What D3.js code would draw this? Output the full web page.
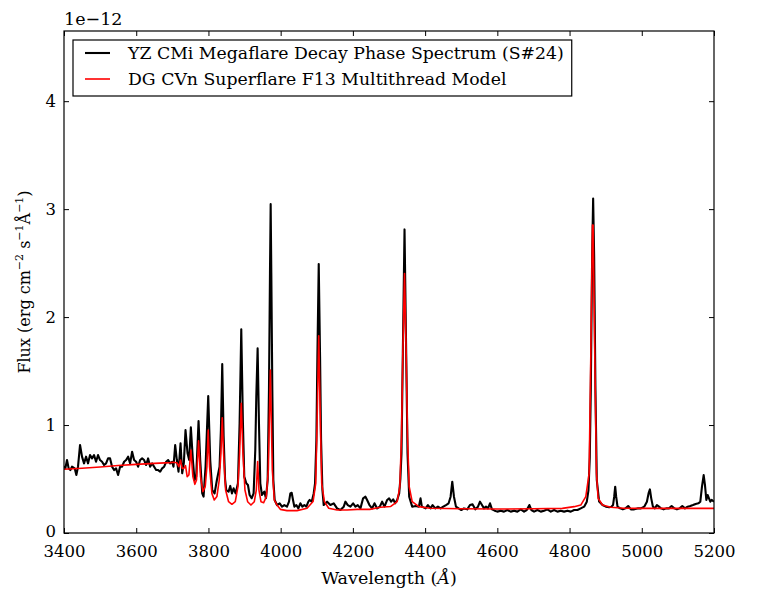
<!DOCTYPE html>
<html>
<head>
<meta charset="utf-8">
<script src="https://cdn.jsdelivr.net/npm/d3@7"></script>
<style>
  body { margin: 0; background: #fff; }
  text { font-family: "DejaVu Serif", serif; fill: #000; }
</style>
</head>
<body>
<div id="chart"></div>
<script>
// Flux values are in units of 1e-12 erg cm^-2 s^-1 A^-1
var obsWave = [3400.0, 3403.7, 3408.3, 3412.9, 3417.6, 3422.2, 3429.6, 3434.2, 3438.8, 3444.4,
  3449.9, 3455.5, 3461.0, 3466.6, 3472.1, 3477.7, 3483.2, 3488.7, 3494.3, 3499.8,
  3505.4, 3510.9, 3516.5, 3522.0, 3527.6, 3533.1, 3538.7, 3544.2, 3549.8, 3555.3,
  3560.9, 3566.4, 3572.0, 3577.5, 3583.1, 3588.6, 3594.1, 3599.7, 3605.2, 3610.8,
  3616.3, 3621.9, 3627.4, 3633.0, 3638.5, 3644.1, 3649.6, 3655.2, 3660.7, 3666.3,
  3671.8, 3677.4, 3682.9, 3688.4, 3694.0, 3699.5, 3703.2, 3707.9, 3712.5, 3717.1,
  3722.7, 3727.3, 3731.9, 3736.5, 3742.1, 3746.7, 3751.3, 3756.9, 3761.5, 3766.1,
  3772.6, 3777.2, 3782.8, 3786.5, 3792.0, 3799.4, 3804.9, 3810.5, 3817.0, 3823.4,
  3830.8, 3834.5, 3838.2, 3842.0, 3846.0, 3849.3, 3855.8, 3860.4, 3865.0, 3869.7,
  3875.2, 3881.7, 3886.3, 3890.9, 3895.5, 3899.2, 3904.8, 3909.4, 3914.0, 3919.6,
  3925.1, 3929.7, 3932.5, 3936.2, 3939.9, 3943.6, 3948.2, 3954.7, 3959.3, 3964.0,
  3967.6, 3970.4, 3972.3, 3974.1, 3976.9, 3979.7, 3983.4, 3989.8, 3997.2, 4003.7,
  4010.1, 4017.5, 4023.1, 4026.8, 4030.5, 4034.2, 4037.9, 4043.4, 4049.0, 4054.5,
  4060.1, 4065.6, 4071.1, 4076.7, 4080.4, 4086.0, 4091.5, 4095.2, 4098.9, 4101.7,
  4105.4, 4109.1, 4111.9, 4115.6, 4119.2, 4128.5, 4137.7, 4147.0, 4156.2, 4165.5,
  4174.7, 4179.3, 4185.8, 4193.2, 4200.6, 4207.0, 4213.5, 4220.9, 4228.3, 4234.8,
  4239.4, 4245.9, 4253.3, 4259.7, 4267.1, 4274.5, 4281.0, 4287.5, 4294.9, 4300.4,
  4306.0, 4311.5, 4317.1, 4322.6, 4328.2, 4331.5, 4334.6, 4338.3, 4343.0, 4347.6,
  4351.3, 4355.9, 4364.2, 4373.5, 4382.7, 4387.3, 4391.0, 4401.3, 4407.7, 4415.1,
  4420.7, 4428.1, 4435.5, 4442.9, 4450.3, 4457.7, 4465.1, 4470.6, 4475.2, 4479.9,
  4485.4, 4492.8, 4500.2, 4507.6, 4516.8, 4524.2, 4531.6, 4539.0, 4546.4, 4552.0,
  4557.5, 4563.1, 4568.6, 4574.2, 4579.7, 4585.2, 4592.6, 4600.0, 4609.3, 4618.5,
  4627.8, 4637.0, 4646.3, 4655.5, 4664.8, 4674.0, 4681.4, 4688.8, 4694.3, 4701.7,
  4711.0, 4720.2, 4729.5, 4738.7, 4748.0, 4757.2, 4766.4, 4775.7, 4784.9, 4794.2,
  4803.4, 4812.7, 4821.9, 4831.1, 4840.4, 4847.8, 4852.4, 4856.0, 4858.8, 4862.5,
  4865.3, 4868.1, 4871.7, 4875.4, 4881.9, 4891.2, 4900.4, 4909.7, 4916.1, 4920.5,
  4923.6, 4926.4, 4929.1, 4932.8, 4940.2, 4947.6, 4955.0, 4962.4, 4969.8, 4979.1,
  4988.3, 4997.6, 5006.8, 5014.2, 5018.8, 5022.5, 5026.2, 5030.8, 5036.4, 5041.9,
  5047.5, 5053.0, 5060.4, 5067.8, 5075.2, 5082.6, 5090.0, 5097.4, 5104.8, 5112.2,
  5119.6, 5127.0, 5134.4, 5141.8, 5149.2, 5156.6, 5162.1, 5166.7, 5171.4, 5175.0,
  5178.8, 5182.4, 5186.1, 5189.8, 5193.5, 5200.0];
var obsFlux = [0.620, 0.599, 0.676, 0.599, 0.583, 0.614, 0.599, 0.537, 0.614, 0.815,
  0.707, 0.645, 0.707, 0.645, 0.722, 0.691, 0.722, 0.660, 0.722, 0.676,
  0.660, 0.630, 0.645, 0.691, 0.691, 0.614, 0.583, 0.599, 0.537, 0.614,
  0.614, 0.660, 0.676, 0.707, 0.645, 0.753, 0.676, 0.660, 0.614, 0.676,
  0.691, 0.676, 0.630, 0.691, 0.614, 0.645, 0.614, 0.583, 0.583, 0.568,
  0.599, 0.614, 0.660, 0.676, 0.645, 0.660, 0.614, 0.815, 0.676, 0.568,
  0.830, 0.553, 0.650, 0.954, 0.738, 0.676, 0.979, 0.676, 0.491, 0.522,
  1.037, 0.676, 0.367, 0.337, 0.614, 1.269, 0.676, 0.398, 0.367, 0.491,
  0.614, 0.954, 1.565, 0.900, 0.500, 0.398, 0.383, 0.436, 0.367, 0.414,
  0.367, 0.460, 1.016, 1.886, 1.016, 0.522, 0.460, 0.445, 0.352, 0.322,
  0.367, 0.769, 1.263, 1.710, 1.016, 0.460, 0.352, 0.383, 0.322, 0.491,
  1.324, 2.405, 3.046, 2.405, 1.324, 0.491, 0.306, 0.259, 0.275, 0.244,
  0.259, 0.244, 0.290, 0.367, 0.373, 0.306, 0.244, 0.259, 0.228, 0.275,
  0.244, 0.259, 0.244, 0.290, 0.306, 0.290, 0.367, 0.460, 0.862, 1.633,
  2.491, 1.633, 0.862, 0.398, 0.259, 0.290, 0.259, 0.275, 0.228, 0.213,
  0.244, 0.290, 0.259, 0.244, 0.275, 0.244, 0.259, 0.228, 0.321, 0.336,
  0.306, 0.259, 0.228, 0.275, 0.228, 0.244, 0.290, 0.244, 0.306, 0.321,
  0.290, 0.312, 0.275, 0.306, 0.367, 0.500, 0.738, 1.664, 2.812, 1.664,
  0.738, 0.336, 0.244, 0.250, 0.244, 0.321, 0.244, 0.228, 0.259, 0.228,
  0.259, 0.228, 0.244, 0.228, 0.244, 0.259, 0.275, 0.336, 0.475, 0.336,
  0.244, 0.228, 0.213, 0.228, 0.219, 0.259, 0.265, 0.219, 0.244, 0.290,
  0.259, 0.228, 0.244, 0.228, 0.275, 0.219, 0.207, 0.198, 0.207, 0.198,
  0.213, 0.198, 0.207, 0.198, 0.219, 0.198, 0.213, 0.259, 0.213, 0.198,
  0.213, 0.198, 0.207, 0.219, 0.198, 0.213, 0.198, 0.207, 0.198, 0.207,
  0.198, 0.213, 0.213, 0.228, 0.244, 0.290, 0.398, 0.700, 1.324, 2.559,
  3.099, 2.559, 1.324, 0.491, 0.291, 0.259, 0.244, 0.238, 0.244, 0.260,
  0.336, 0.429, 0.336, 0.244, 0.228, 0.219, 0.228, 0.250, 0.219, 0.219,
  0.228, 0.228, 0.244, 0.290, 0.367, 0.404, 0.321, 0.244, 0.228, 0.259,
  0.244, 0.228, 0.219, 0.228, 0.228, 0.250, 0.228, 0.219, 0.228, 0.250,
  0.228, 0.244, 0.250, 0.259, 0.269, 0.275, 0.290, 0.429, 0.537, 0.444,
  0.306, 0.352, 0.321, 0.290, 0.306, 0.290];

var modelWave = [3400, 3450, 3500, 3550, 3600, 3650, 3694.0, 3703.2, 3712.5, 3718.0,
  3722.7, 3727.3, 3731.9, 3736.5, 3741.1, 3745.8, 3751.3, 3756.9, 3762.4, 3767.0,
  3772.6, 3778.1, 3784.6, 3791.1, 3795.7, 3799.4, 3803.1, 3809.6, 3816.0, 3823.4,
  3829.9, 3834.5, 3838.2, 3841.9, 3847.5, 3855.8, 3865.0, 3874.3, 3881.7, 3886.3,
  3890.9, 3895.5, 3901.1, 3908.5, 3917.7, 3927.0, 3932.5, 3936.2, 3939.9, 3945.5,
  3952.9, 3960.3, 3965.8, 3968.6, 3971.4, 3974.1, 3976.9, 3982.4, 3989.8, 3999.1,
  4017.6, 4045.3, 4073.0, 4089.7, 4097.1, 4100.8, 4105.4, 4110.0, 4113.7, 4121.1,
  4133.1, 4156.3, 4184.0, 4211.7, 4246.8, 4276.4, 4304.1, 4322.6, 4330.0, 4334.6,
  4338.3, 4343.0, 4347.6, 4351.3, 4355.9, 4364.2, 4382.7, 4413.2, 4500, 4600,
  4700, 4780, 4812.6, 4831.1, 4845.0, 4854.2, 4858.8, 4863.4, 4865.3, 4869.9,
  4874.5, 4879.1, 4891.2, 4914.3, 4950, 5000, 5100, 5200];
var modelFlux = [0.590, 0.600, 0.612, 0.625, 0.636, 0.645, 0.652, 0.655, 0.651, 0.614,
  0.676, 0.599, 0.599, 0.624, 0.522, 0.537, 0.769, 0.522, 0.451, 0.491,
  0.855, 0.522, 0.383, 0.429, 0.614, 0.954, 0.614, 0.367, 0.306, 0.337,
  0.491, 0.738, 1.068, 0.738, 0.398, 0.290, 0.266, 0.290, 0.429, 0.738,
  1.201, 0.738, 0.398, 0.290, 0.259, 0.290, 0.398, 0.661, 0.398, 0.290,
  0.281, 0.337, 0.583, 1.046, 1.509, 1.046, 0.583, 0.306, 0.259, 0.219,
  0.207, 0.207, 0.229, 0.291, 0.460, 1.016, 1.827, 1.016, 0.460, 0.291,
  0.229, 0.213, 0.213, 0.219, 0.219, 0.238, 0.245, 0.290, 0.429, 0.892,
  1.664, 2.404, 1.664, 0.892, 0.429, 0.290, 0.244, 0.229, 0.224, 0.222,
  0.224, 0.228, 0.244, 0.259, 0.337, 0.553, 1.633, 2.852, 2.852, 1.633,
  0.553, 0.322, 0.259, 0.238, 0.229, 0.228, 0.228, 0.228];

var xTicks = [3400, 3600, 3800, 4000, 4200, 4400, 4600, 4800, 5000, 5200];
var yTicks = [0, 1, 2, 3, 4];
var seriesNames = ["YZ CMi Megaflare Decay Phase Spectrum (S#24)", "DG CVn Superflare F13 Multithread Model"];
var seriesColors = ["#000000", "#ff0000"];

// Set the dimensions and margins of the graph
var margin = { top: 31, right: 46, bottom: 59, left: 64 };
var width = 760 - margin.left - margin.right;
var height = 592 - margin.top - margin.bottom;

var svg = d3.select("#chart")
  .append("svg")
  .attr("width", 760)
  .attr("height", 592)
  .append("g")
  .attr("transform", `translate(${margin.left}, ${margin.top})`);

var x = d3.scaleLinear().domain([3400, 5200]).range([0, width]);
var y = d3.scaleLinear().domain([0, 4.65]).range([height, 0]);

svg.append("clipPath").attr("id", "clip")
  .append("rect").attr("width", width).attr("height", height);

// Lines
var line = d3.line().x(d => x(d[0])).y(d => y(d[1]));
var plot = svg.append("g").attr("clip-path", "url(#clip)");
plot.append("path")
  .datum(d3.zip(obsWave, obsFlux))
  .attr("fill", "none")
  .attr("stroke", seriesColors[0])
  .attr("stroke-width", 2.1)
  .attr("stroke-linejoin", "round")
  .attr("d", line);
plot.append("path")
  .datum(d3.zip(modelWave, modelFlux))
  .attr("fill", "none")
  .attr("stroke", seriesColors[1])
  .attr("stroke-width", 1.6)
  .attr("stroke-linejoin", "round")
  .attr("d", line);

// Axes, ticks pointing inward on all four sides
function styleAxis(g) {
  g.select(".domain").remove();
  g.selectAll(".tick line").attr("stroke", "#000").attr("stroke-width", 1);
  g.selectAll(".tick text").style("font-family", "DejaVu Serif").style("font-size", "16.5px").attr("fill", "#000");
}
svg.append("g")
  .attr("transform", `translate(0, ${height})`)
  .call(d3.axisBottom(x).tickValues(xTicks).tickFormat(d3.format("d")).tickSize(-5).tickPadding(12))
  .call(styleAxis);
svg.append("g")
  .call(d3.axisTop(x).tickValues(xTicks).tickFormat("").tickSize(-5))
  .call(styleAxis);
var yAxisG = svg.append("g")
  .call(d3.axisLeft(y).tickValues(yTicks).tickFormat(d3.format("d")).tickSize(-5).tickPadding(8))
  .call(styleAxis);
// lift the "0" label a little so it clears the "3400" below it
yAxisG.selectAll(".tick text").filter(d => d === 0).attr("y", -2);
svg.append("g")
  .attr("transform", `translate(${width}, 0)`)
  .call(d3.axisRight(y).tickValues(yTicks).tickFormat("").tickSize(-5))
  .call(styleAxis);

// Frame
svg.append("rect")
  .attr("width", width).attr("height", height)
  .attr("fill", "none").attr("stroke", "#000").attr("stroke-width", 1.2);

// Offset text
svg.append("text")
  .attr("x", 0).attr("y", -6)
  .style("font-size", "17.5px")
  .text("1e\u221212");

// x-axis label
var xl = svg.append("text")
  .attr("x", width / 2).attr("y", height + 51)
  .attr("text-anchor", "middle")
  .style("font-size", "17.5px");
xl.append("tspan").text("Wavelength (");
xl.append("tspan").style("font-style", "italic").text("\u00C5");
xl.append("tspan").text(")");

// y-axis label
var yl = svg.append("text")
  .attr("transform", `translate(-34, ${height / 2}) rotate(-90)`)
  .attr("text-anchor", "middle")
  .style("font-size", "16px");
yl.append("tspan").text("Flux (erg cm");
yl.append("tspan").attr("dy", -7).style("font-size", "11px").text("\u22122");
yl.append("tspan").attr("dy", 7).text(" s");
yl.append("tspan").attr("dy", -7).style("font-size", "11px").text("\u22121");
yl.append("tspan").attr("dy", 7).text("\u00C5");
yl.append("tspan").attr("dy", -7).style("font-size", "11px").text("\u22121");
yl.append("tspan").attr("dy", 7).text(")");

// Legend
var legend = svg.append("g").attr("transform", "translate(9, 9)");
var box = legend.append("rect")
  .attr("fill", "#fff").attr("stroke", "#000").attr("stroke-width", 1.2);
seriesNames.forEach(function(name, i) {
  var cy = 13 + i * 26;
  legend.append("line")
    .attr("x1", 12).attr("x2", 37).attr("y1", cy).attr("y2", cy)
    .attr("stroke", seriesColors[i]).attr("stroke-width", i == 0 ? 2.1 : 1.6);
  legend.append("text")
    .attr("x", 55).attr("y", cy + 6)
    .style("font-size", "17.3px")
    .text(name);
});
var bb = legend.node().getBBox();
box.attr("x", 0).attr("y", 0)
  .attr("width", bb.x + bb.width + 8)
  .attr("height", 56);
</script>
</body>
</html>
